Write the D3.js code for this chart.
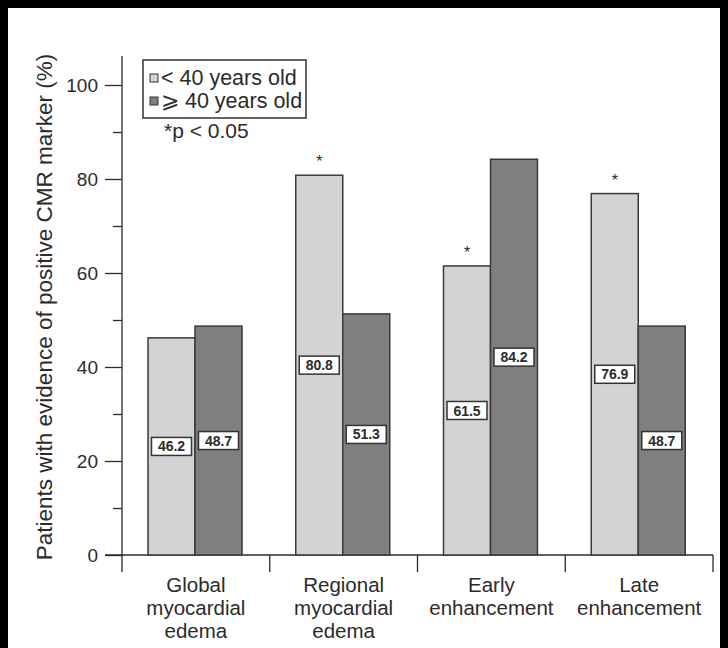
<!DOCTYPE html>
<html>
<head>
<meta charset="utf-8">
<script src="https://cdn.jsdelivr.net/npm/d3@7"></script>
<style>
  html, body { margin: 0; padding: 0; background: #000; }
  svg { display: block; }
  text { font-family: "Liberation Sans", Arial, Helvetica, sans-serif; fill: #2b2b2b; }
</style>
</head>
<body>
<svg id="chart" width="728" height="648"></svg>
<script>
// CMR markers by age group
const categories = [
  ["Global", "myocardial", "edema"],
  ["Regional", "myocardial", "edema"],
  ["Early", "enhancement"],
  ["Late", "enhancement"]
];
const under40 = [46.2, 80.8, 61.5, 76.9];
const over40 = [48.7, 51.3, 84.2, 48.7];
const significant = [false, true, true, true]; // p < 0.05 marker over the < 40 bar
const majorTicks = [0, 20, 40, 60, 80, 100];
const minorTicks = [10, 30, 50, 70, 90];
const seriesLabels = ["< 40 years old", "\u2A7E 40 years old"];
const seriesKeys = ["under", "over"];
const seriesColors = ["#d3d3d5", "#7f7f82"];
const yTitle = "Patients with evidence of positive CMR marker (%)";
const pNote = "*p < 0.05";

const svg = d3.select("#chart");
const ink = "#2b2b2b";

// paper
svg.append("rect").attr("x", 8).attr("y", 8).attr("width", 712).attr("height", 640).attr("fill", "#fff");

const keys = categories.map(c => c.join(" "));
const x = d3.scaleBand().domain(keys).range([122, 713]).padding(0);
const xIn = d3.scaleBand().domain(seriesKeys).range([26, 120]).padding(0);
const y = d3.scaleLinear().domain([0, 100]).range([555, 85]);

const rows = keys.map((k, i) => ({ key: k, i, values: [under40[i], over40[i]] }));

// y axis: major ticks with labels, minor ticks without
const yAxis = svg.append("g").attr("transform", "translate(122,0)")
  .call(d3.axisLeft(y).tickValues(majorTicks).tickSize(17).tickPadding(7).tickFormat(d3.format("d")));
yAxis.select(".domain").remove();
yAxis.selectAll(".tick line").attr("stroke", ink).attr("stroke-width", 1.3);
yAxis.selectAll(".tick text").attr("font-size", 19).attr("fill", ink).style("font-family", "Liberation Sans, Arial, sans-serif");

const yMinor = svg.append("g").attr("transform", "translate(122,0)")
  .call(d3.axisLeft(y).tickValues(minorTicks).tickSize(9).tickFormat(""));
yMinor.select(".domain").remove();
yMinor.selectAll(".tick line").attr("stroke", ink).attr("stroke-width", 1.3);

svg.append("line").attr("x1", 122).attr("x2", 122).attr("y1", 56).attr("y2", 572)
  .attr("stroke", ink).attr("stroke-width", 1.3);

// x axis baseline and category dividers
svg.append("line").attr("x1", 105).attr("x2", 713).attr("y1", y(0)).attr("y2", y(0))
  .attr("stroke", ink).attr("stroke-width", 1.3);
const dividers = keys.map(k => x(k) + x.bandwidth());
svg.selectAll("line.div").data(dividers).join("line").attr("class", "div")
  .attr("x1", d => d).attr("x2", d => d).attr("y1", y(0)).attr("y2", 572)
  .attr("stroke", ink).attr("stroke-width", 1.3);

// bars
const groups = svg.selectAll("g.grp").data(rows).join("g").attr("class", "grp")
  .attr("transform", d => `translate(${x(d.key)},0)`);

groups.selectAll("rect.bar").data(d => d.values.map((v, j) => ({ v, j })))
  .join("rect").attr("class", "bar")
  .attr("x", d => xIn(seriesKeys[d.j]))
  .attr("width", xIn.bandwidth())
  .attr("y", d => y(d.v))
  .attr("height", d => y(0) - y(d.v))
  .attr("fill", d => seriesColors[d.j])
  .attr("stroke", "#3a3a3a").attr("stroke-width", 1.5);

// value boxes at half the bar height
const labels = groups.selectAll("g.lab").data(d => d.values.map((v, j) => ({ v, j })))
  .join("g").attr("class", "lab")
  .attr("transform", d => `translate(${xIn(seriesKeys[d.j]) + xIn.bandwidth() / 2},${y(d.v / 2)})`);
labels.append("rect").attr("x", -20).attr("y", -9).attr("width", 40).attr("height", 18)
  .attr("fill", "#fff").attr("stroke", "#333").attr("stroke-width", 1.5);
labels.append("text").attr("text-anchor", "middle").attr("dy", "0.36em")
  .attr("font-size", 14).attr("font-weight", "bold").attr("fill", "#4a4a4a")
  .text(d => d.v.toFixed(1));

// significance asterisks
groups.filter(d => significant[d.i]).append("text")
  .attr("x", xIn("under") + xIn.bandwidth() / 2)
  .attr("y", d => y(d.values[0]) - 8)
  .attr("text-anchor", "middle").attr("font-size", 16).attr("fill", ink)
  .text("*");

// category labels
const catText = svg.selectAll("text.cat").data(categories).join("text").attr("class", "cat")
  .attr("text-anchor", "middle").attr("font-size", 20.5).attr("fill", ink)
  .attr("transform", (d, i) => `translate(${x(keys[i]) + x.bandwidth() / 2},592)`);
catText.selectAll("tspan").data(d => d).join("tspan")
  .attr("x", 0).attr("y", (d, i) => i * 23).text(d => d);

// y axis title
svg.append("text").attr("transform", "translate(52,307) rotate(-90)")
  .attr("text-anchor", "middle").attr("font-size", 22.5).attr("fill", ink).text(yTitle);

// legend
const legend = svg.append("g");
legend.append("rect").attr("x", 143).attr("y", 60).attr("width", 163).attr("height", 58)
  .attr("fill", "#fff").attr("stroke", "#333").attr("stroke-width", 1.5);
seriesLabels.forEach((lab, i) => {
  const cy = 78 + i * 23;
  legend.append("rect").attr("x", 150).attr("y", cy - 4).attr("width", 8).attr("height", 8)
    .attr("fill", seriesColors[i]).attr("stroke", "#333").attr("stroke-width", 1);
  legend.append("text").attr("x", 161).attr("y", cy + 7).attr("font-size", 21.5).attr("fill", ink).text(lab);
});
legend.append("text").attr("x", 164).attr("y", 138).attr("font-size", 21).attr("fill", ink).text(pNote);
</script>
</body>
</html>
